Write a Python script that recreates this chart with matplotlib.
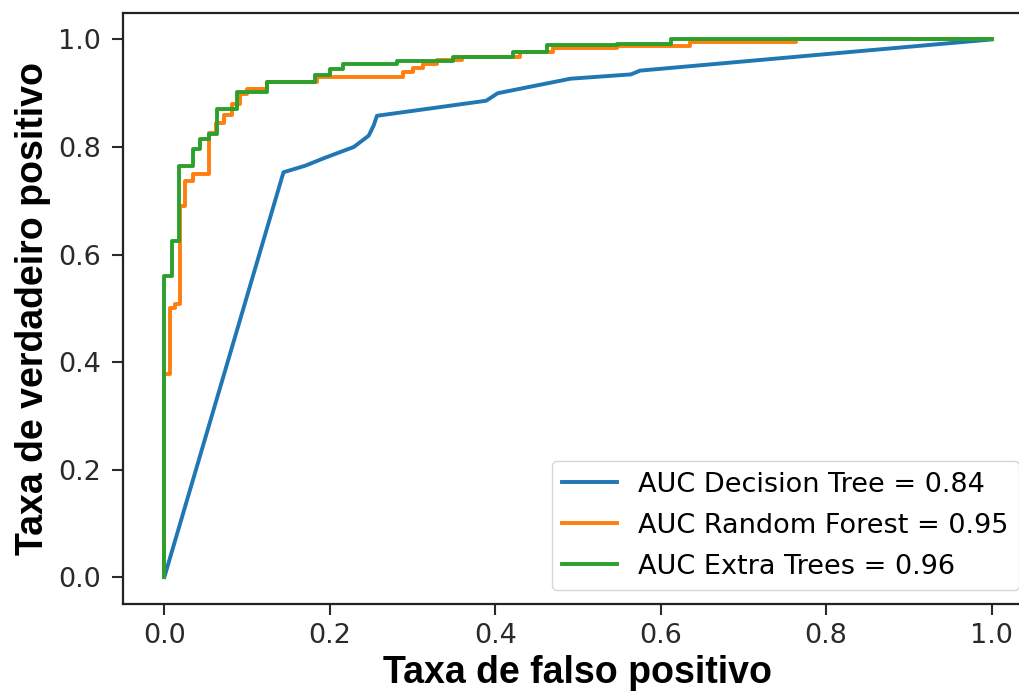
import matplotlib
matplotlib.use("Agg")
import matplotlib.pyplot as plt

# ROC curve points (false positive rate, true positive rate)
fpr_dt = [0.0, 0.144, 0.17, 0.196, 0.229, 0.247, 0.253, 0.257, 0.389, 0.403,
          0.491, 0.564, 0.575, 1.0]
tpr_dt = [0.0, 0.753, 0.765, 0.781, 0.80, 0.821, 0.84, 0.858, 0.886, 0.90,
          0.927, 0.935, 0.942, 1.0]

fpr_rf = [0.0, 0.0, 0.007, 0.007, 0.013, 0.013, 0.019, 0.019, 0.025, 0.025,
          0.035, 0.035, 0.054, 0.054, 0.062, 0.062, 0.072, 0.072, 0.082, 0.082,
          0.092, 0.092, 0.1, 0.1, 0.124, 0.124, 0.184, 0.184, 0.289, 0.289,
          0.301, 0.301, 0.313, 0.313, 0.329, 0.329, 0.36, 0.36, 0.43, 0.43,
          0.47, 0.47, 0.547, 0.547, 0.635, 0.635, 0.763, 0.763, 1.0]
tpr_rf = [0.0, 0.378, 0.378, 0.50, 0.50, 0.508, 0.508, 0.69, 0.69, 0.737,
          0.737, 0.75, 0.75, 0.826, 0.826, 0.845, 0.845, 0.86, 0.86, 0.88,
          0.88, 0.898, 0.898, 0.908, 0.908, 0.92, 0.92, 0.93, 0.93, 0.939,
          0.939, 0.947, 0.947, 0.955, 0.955, 0.962, 0.962, 0.968, 0.968, 0.976,
          0.976, 0.985, 0.985, 0.987, 0.987, 0.995, 0.995, 1.0, 1.0]

fpr_et = [0.0, 0.0, 0.009, 0.009, 0.018, 0.018, 0.035, 0.035, 0.043, 0.043,
          0.054, 0.054, 0.064, 0.064, 0.088, 0.088, 0.124, 0.124, 0.182, 0.182,
          0.2, 0.2, 0.216, 0.216, 0.281, 0.281, 0.349, 0.349, 0.422, 0.422,
          0.462, 0.462, 0.547, 0.547, 0.613, 0.613, 1.0]
tpr_et = [0.0, 0.56, 0.56, 0.626, 0.626, 0.765, 0.765, 0.796, 0.796, 0.815,
          0.815, 0.825, 0.825, 0.871, 0.871, 0.902, 0.902, 0.92, 0.92, 0.933,
          0.933, 0.945, 0.945, 0.955, 0.955, 0.96, 0.96, 0.968, 0.968, 0.976,
          0.976, 0.989, 0.989, 0.992, 0.992, 1.0, 1.0]

labels = ["AUC Decision Tree = 0.84",
          "AUC Random Forest = 0.95",
          "AUC Extra Trees = 0.96"]

fig = plt.figure(figsize=(10.19, 6.94), dpi=100)
# axes run slightly past the right edge, as in the cropped original
ax = fig.add_axes([0.1207, 0.1297, 0.893, 0.8522])

ax.plot(fpr_dt, tpr_dt, color="tab:blue", lw=2.8, label=labels[0])
ax.plot(fpr_rf, tpr_rf, color="tab:orange", lw=2.8, label=labels[1])
ax.plot(fpr_et, tpr_et, color="tab:green", lw=2.8, label=labels[2])

ax.set_xlim(-0.05, 1.05)
ax.set_ylim(-0.05, 1.05)
ax.set_xticks([0.0, 0.2, 0.4, 0.6, 0.8, 1.0])
ax.set_yticks([0.0, 0.2, 0.4, 0.6, 0.8, 1.0])
ax.tick_params(labelsize=19.5, length=8, width=1.5, colors="#2a2a2a")
ax.tick_params(axis="x", pad=6)
ax.tick_params(axis="y", pad=8)
for sp in ax.spines.values():
    sp.set_linewidth(1.6)
    sp.set_color("#222222")

font_lbl = {"family": "Liberation Sans", "weight": "bold", "size": 27}
ax.set_xlabel("Taxa de falso positivo", fontdict=font_lbl)
ax.set_ylabel("Taxa de verdadeiro positivo", fontdict=font_lbl)
ax.xaxis.set_label_coords(0.5, -0.086)
ax.yaxis.set_label_coords(-0.079, 0.5)

ax.legend(loc="lower right", fontsize=19.5, borderaxespad=0.5,
          labelspacing=0.55)

fig.savefig("out.png", dpi=100)
